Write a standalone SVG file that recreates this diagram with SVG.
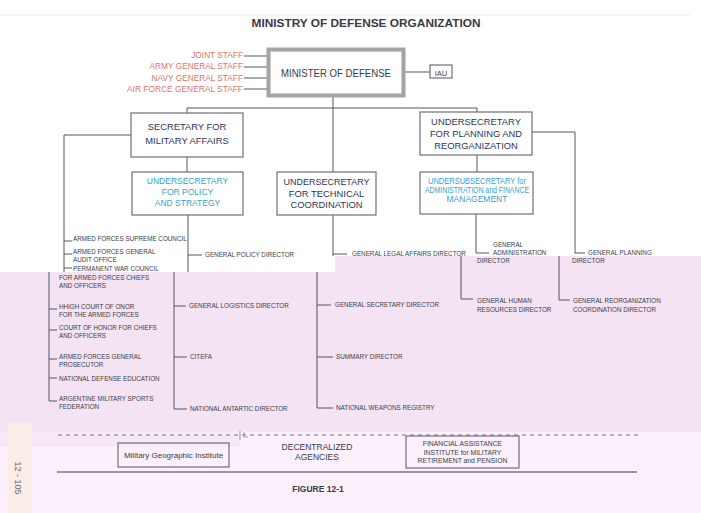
<svg xmlns="http://www.w3.org/2000/svg" width="701" height="513" viewBox="0 0 701 513">
<style>
text{font-family:"Liberation Sans",Arial,sans-serif;}
.box{fill:none;stroke:#6e6e78;stroke-width:1.2;}
.ln{fill:none;stroke:#55555f;stroke-width:1;}
.t{fill:#2e3558;font-size:9.4px;text-anchor:middle;}
.b{fill:#3a9fcb;font-size:8.5px;text-anchor:middle;}
.s{fill:#dd7468;font-size:8.3px;text-anchor:end;}
.sm{fill:#3d3d48;font-size:6.3px;}
</style>
<rect x="0" y="0" width="701" height="513" fill="#ffffff"/>
<g id="background">
<path d="M0 272 H335 V256 H701 V432 H0 Z" fill="#f4e3f3"/>
<rect x="0" y="432" width="701" height="81" fill="#fcf0fc"/>
<rect x="0" y="432" width="240" height="15" fill="#f6e8f5"/>
<rect x="8" y="423" width="24" height="90" fill="#faece6"/>
<line x1="0" y1="15" x2="690" y2="15" stroke="#f6e2e2" stroke-width="1"/>
<text x="0" y="0" transform="translate(15,478) rotate(90)" text-anchor="middle" font-size="9" fill="#6e6864">12 - 105</text>
</g>
<g id="title">
<text x="366" y="27" text-anchor="middle" font-weight="bold" font-size="11.5" fill="#3a3a44" textLength="229" lengthAdjust="spacingAndGlyphs">MINISTRY OF DEFENSE ORGANIZATION</text>
</g>
<g id="connectors">
<path class="ln" d="M244 56 H267 M244 67 H267 M244 78 H267 M244 89 H267"/>
<path class="ln" d="M405 72 H430"/>
<path class="ln" d="M333 97 V108 M187 108 H477 M187 108 V113 M477 108 V112 M333 108 V172"/>
<path class="ln" d="M131 135 H64 V272"/>
<path class="ln" d="M64 241 H72 M64 254 H72 M64 268 H72"/>
<path class="ln" d="M187 157 V172"/>
<path class="ln" d="M188 215 V272 M188 255 H202"/>
<path class="ln" d="M333 215 V256 M333 254 H347"/>
<path class="ln" d="M477 155 V172"/>
<path class="ln" d="M476 214 V253 H489"/>
<path class="ln" d="M532 132 H575 V253 H585"/>
<path class="ln" d="M49 272 V401 H57 M49 309 H57 M49 330 H57 M49 359 H57 M49 378 H57"/>
<path class="ln" d="M174 272 V409 H187 M174 306 H186 M174 357 H187"/>
<path class="ln" d="M317 272 V408 H333 M317 305 H331 M317 357 H333"/>
<path class="ln" d="M461 256 V299 H473"/>
<path class="ln" d="M559 256 V300 H570"/>
<path d="M58 435 H638" stroke="#77777f" stroke-width="1" stroke-dasharray="4,4" fill="none"/>
<path d="M240 431 V440 M244 432 V437 H248" stroke="#77777f" stroke-width="0.7" fill="none"/>
<path d="M57 472 H637" stroke="#3a3a44" stroke-width="1.2" fill="none"/>
</g>
<g id="staff">
<text class="s" x="243" y="58">JOINT  STAFF</text>
<text class="s" x="243" y="69">ARMY GENERAL STAFF</text>
<text class="s" x="243" y="81">NAVY GENERAL STAFF</text>
<text class="s" x="243" y="92" textLength="116" lengthAdjust="spacingAndGlyphs">AIR FORCE GENERAL STAFF</text>
</g>
<g id="minister">
<rect x="268.5" y="49.5" width="135" height="46" fill="#ffffff" stroke="#a3a3a8" stroke-width="4"/>
<rect x="270.5" y="51.5" width="131" height="42" fill="none" stroke="#c8c8cc" stroke-width="0.8"/>
<text x="336" y="77" text-anchor="middle" font-size="11.5" fill="#3a3a48" textLength="110" lengthAdjust="spacingAndGlyphs">MINISTER OF DEFENSE</text>
</g>
<g id="iau">
<rect class="box" x="430" y="65" width="22" height="13"/>
<text x="441" y="76" text-anchor="middle" font-size="7.5" fill="#3a3a48">IAU</text>
</g>
<g id="secretary">
<rect class="box" x="131" y="113" width="112" height="44" fill="#fff"/>
<text class="t" x="187" y="130">SECRETARY FOR</text>
<text class="t" x="187" y="144">MILITARY AFFAIRS</text>
</g>
<g id="policy">
<rect class="box" x="132" y="172" width="111" height="43"/>
<text class="b" x="187.5" y="184">UNDERSECRETARY</text>
<text class="b" x="187.5" y="195">FOR POLICY</text>
<text class="b" x="187.5" y="206">AND STRATEGY</text>
</g>
<g id="technical">
<rect class="box" x="277" y="172" width="99" height="43"/>
<text class="t" x="326.5" y="185" textLength="86" lengthAdjust="spacingAndGlyphs">UNDERSECRETARY</text>
<text class="t" x="326.5" y="196.5">FOR TECHNICAL</text>
<text class="t" x="326.5" y="208">COORDINATION</text>
</g>
<g id="planning">
<rect class="box" x="420" y="112" width="112" height="43"/>
<text class="t" x="476" y="125">UNDERSECRETARY</text>
<text class="t" x="476" y="137">FOR PLANNING AND</text>
<text class="t" x="476" y="149">REORGANIZATION</text>
</g>
<g id="admin">
<rect class="box" x="420" y="172" width="113" height="42"/>
<text class="b" x="477" y="184" font-size="6.8px" fill="#4aa8d4" textLength="98" lengthAdjust="spacingAndGlyphs">UNDERSUBSECRETARY for</text>
<text class="b" x="477" y="193" font-size="6.8px" fill="#4aa8d4" textLength="104" lengthAdjust="spacingAndGlyphs">ADMINISTRATION and FINANCE</text>
<text class="b" x="477" y="202" font-size="6.8px" fill="#4aa8d4">MANAGEMENT</text>
</g>
<g id="military-items">
<text class="sm" x="73" y="241">ARMED FORCES SUPREME COUNCIL</text>
<text class="sm" x="73" y="254">ARMED FORCES GENERAL</text>
<text class="sm" x="73" y="262">AUDIT OFFICE</text>
<text class="sm" x="73" y="270.5">PERMANENT WAR COUNCIL</text>
<text class="sm" x="59" y="280">FOR ARMED FORCES CHIEFS</text>
<text class="sm" x="59" y="288">AND OFFICERS</text>
<text class="sm" x="59" y="309">HHIGH COURT OF ONOR</text>
<text class="sm" x="59" y="317">FOR THE ARMED FORCES</text>
<text class="sm" x="59" y="330">COURT OF HONOR FOR CHIEFS</text>
<text class="sm" x="59" y="338">AND OFFICERS</text>
<text class="sm" x="59" y="359">ARMED FORCES GENERAL</text>
<text class="sm" x="59" y="367">PROSECUTOR</text>
<text class="sm" x="59" y="381">NATIONAL DEFENSE EDUCATION</text>
<text class="sm" x="59" y="401">ARGENTINE MILITARY SPORTS</text>
<text class="sm" x="59" y="409">FEDERATION</text>
</g>
<g id="policy-items">
<text class="sm" x="205" y="257">GENERAL POLICY DIRECTOR</text>
<text class="sm" x="189" y="308">GENERAL LOGISTICS DIRECTOR</text>
<text class="sm" x="190" y="359">CITEFA</text>
<text class="sm" x="190" y="411">NATIONAL ANTARTIC DIRECTOR</text>
</g>
<g id="technical-items">
<text class="sm" x="352" y="256">GENERAL LEGAL AFFAIRS DIRECTOR</text>
<text class="sm" x="335" y="307">GENERAL SECRETARY DIRECTOR</text>
<text class="sm" x="336" y="359">SUMMARY DIRECTOR</text>
<text class="sm" x="336" y="410">NATIONAL WEAPONS REGISTRY</text>
</g>
<g id="admin-items">
<text class="sm" x="493" y="247">GENERAL</text>
<text class="sm" x="493" y="255">ADMINISTRATION</text>
<text class="sm" x="477" y="263">DIRECTOR</text>
<text class="sm" x="477" y="303">GENERAL HUMAN</text>
<text class="sm" x="477" y="312">RESOURCES DIRECTOR</text>
</g>
<g id="planning-items">
<text class="sm" x="588" y="255">GENERAL PLANNING</text>
<text class="sm" x="572" y="263">DIRECTOR</text>
<text class="sm" x="573" y="303">GENERAL REORGANIZATION</text>
<text class="sm" x="573" y="312">COORDINATION DIRECTOR</text>
</g>
<g id="military-geographic">
<rect class="box" x="118" y="443" width="111" height="24"/>
<text x="173.5" y="458" text-anchor="middle" font-size="8px" fill="#3a3a48">Military Geographic Institute</text>
</g>
<g id="decentralized">
<text x="317" y="450" text-anchor="middle" font-size="8.5px" fill="#3a3a48">DECENTRALIZED</text>
<text x="317" y="460" text-anchor="middle" font-size="8.5px" fill="#3a3a48">AGENCIES</text>
</g>
<g id="financial">
<rect class="box" x="406" y="436" width="113" height="32"/>
<text x="462.5" y="446" text-anchor="middle" font-size="6.8px" fill="#3a3a48">FINANCIAL ASSISTANCE</text>
<text x="462.5" y="454.5" text-anchor="middle" font-size="6.8px" fill="#3a3a48">INSTITUTE for MILITARY</text>
<text x="462.5" y="463" text-anchor="middle" font-size="6.8px" fill="#3a3a48">RETIREMENT and PENSION</text>
</g>
<g id="figure">
<text x="318" y="492" text-anchor="middle" font-weight="bold" font-size="8.5px" fill="#3a3a44">FIGURE 12-1</text>
</g>
</svg>
